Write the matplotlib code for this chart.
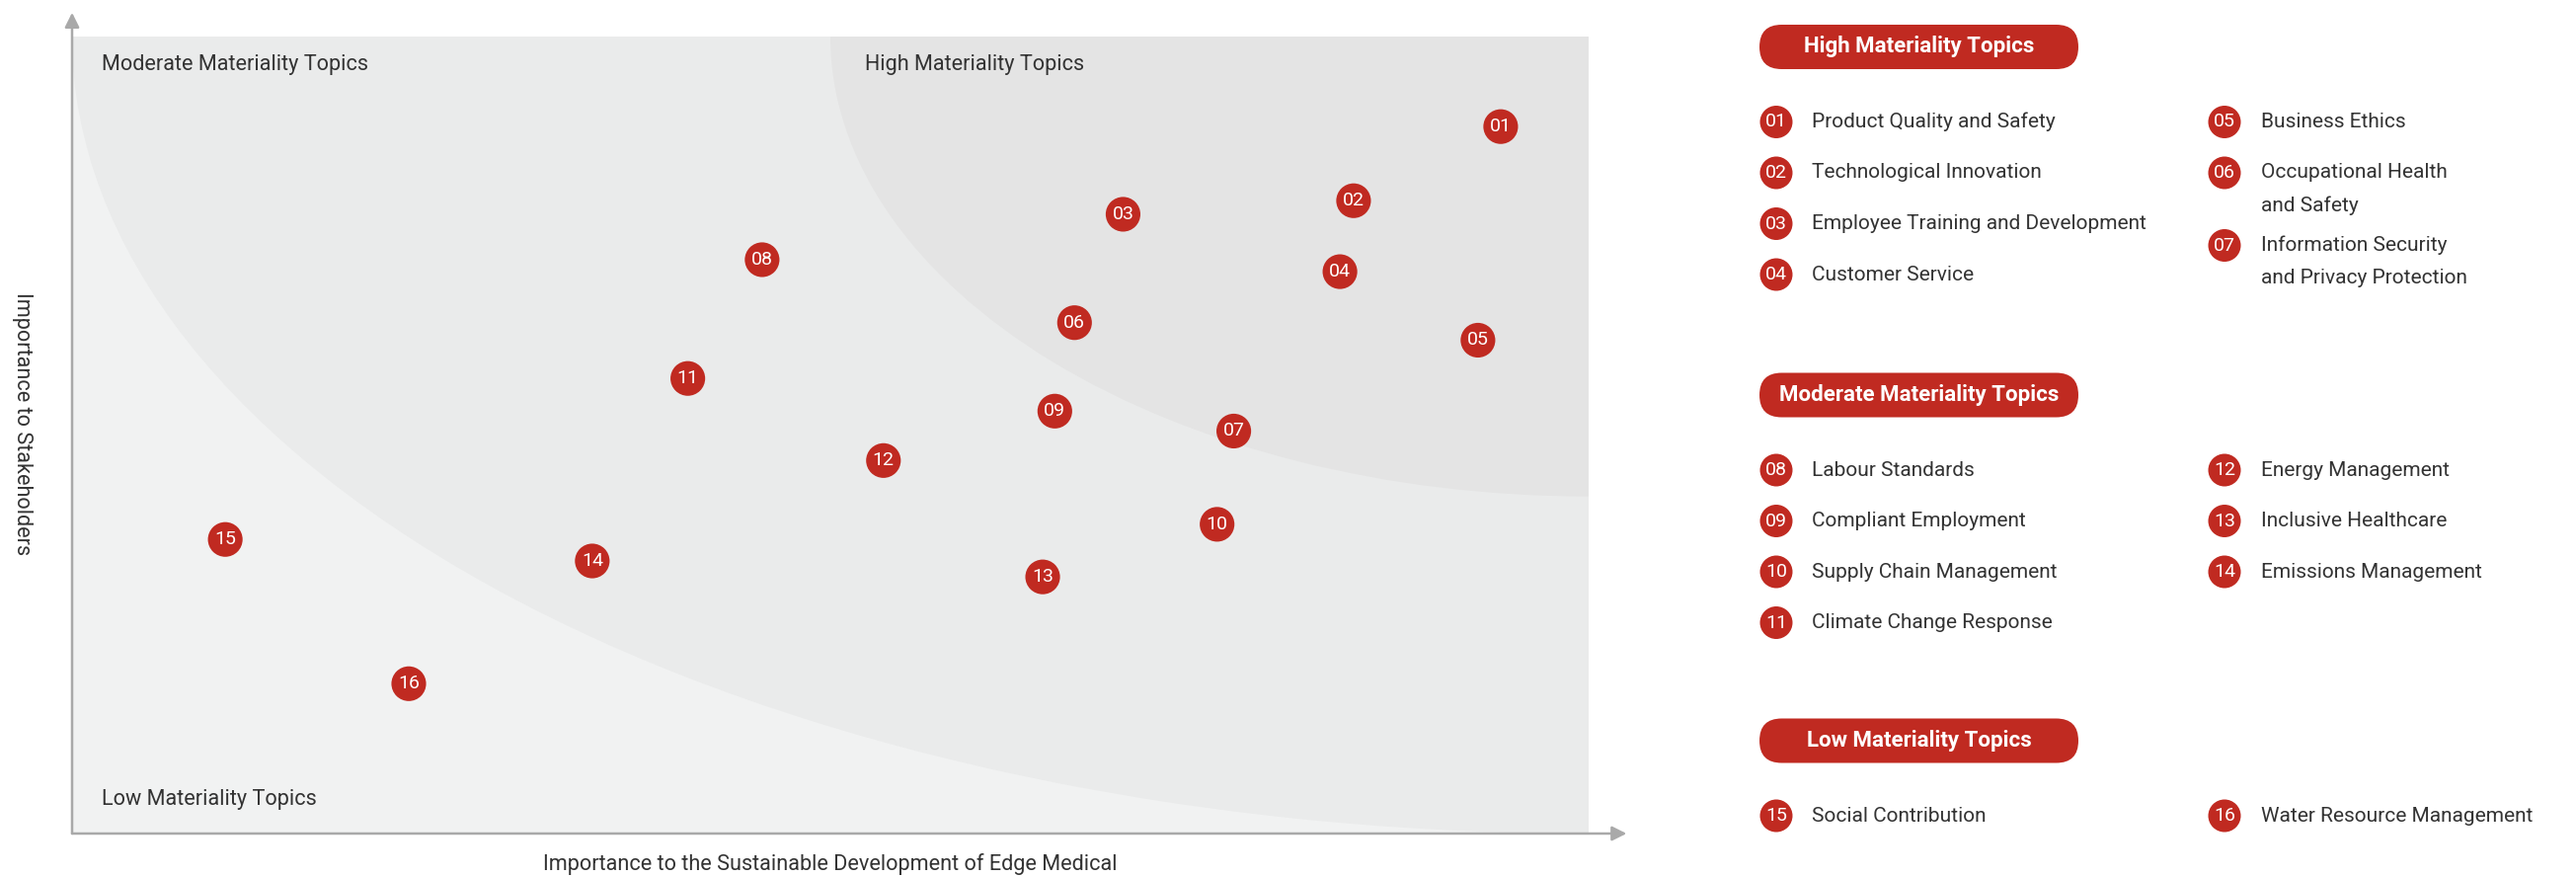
"""
Materiality matrix: topics plotted by importance to stakeholders vs. to the company,
with the topic legend laid out on the right.
"""

import matplotlib.pyplot as plt
from matplotlib.patches import Ellipse, FancyBboxPatch, Circle

plt.rcParams['font.family'] = ['Roboto', 'DejaVu Sans']

# ---- data ----
topic_ids = ['01', '02', '03', '04', '05', '06', '07', '08',
             '09', '10', '11', '12', '13', '14', '15', '16']
topic_names = ['Product Quality and Safety', 'Technological Innovation',
               'Employee Training and Development', 'Customer Service',
               'Business Ethics', 'Occupational Health\nand Safety',
               'Information Security\nand Privacy Protection',
               'Labour Standards', 'Compliant Employment', 'Supply Chain Management',
               'Climate Change Response', 'Energy Management', 'Inclusive Healthcare',
               'Emissions Management', 'Social Contribution', 'Water Resource Management']
# importance to company (x) / stakeholders (y), 0-100
x_vals = [94.2, 84.5, 69.3, 83.6, 92.7, 66.1, 76.6, 45.5,
          64.8, 75.5, 40.6, 53.5, 64.0, 34.3, 10.1, 22.2]
y_vals = [88.7, 79.4, 77.7, 70.5, 61.9, 64.1, 50.5, 72.0,
          53.0, 38.8, 57.1, 46.8, 32.2, 34.2, 36.9, 18.8]

group_titles = ['High Materiality Topics', 'Moderate Materiality Topics', 'Low Materiality Topics']
group_col1 = [['01', '02', '03', '04'], ['08', '09', '10', '11'], ['15']]
group_col2 = [['05', '06', '07'], ['12', '13', '14'], ['16']]

# ---- style ----
RED = '#c02a21'
TXT = '#333333'
AXC = '#a9a9a9'
C_LOW, C_MID, C_HIGH = '#f1f2f2', '#eaebeb', '#e4e4e4'

W, H = 2609, 888
fig = plt.figure(figsize=(W / 100, H / 100), dpi=100)

# legend canvas in pixel units
lax = fig.add_axes([0, 0, 1, 1])
lax.set_xlim(0, W)
lax.set_ylim(H, 0)
lax.axis('off')

# main matrix
ax_l, ax_r, ax_t, ax_b = 73, 1609, 37, 844
ax = fig.add_axes([ax_l / W, (H - ax_b) / H, (ax_r - ax_l) / W, (ax_b - ax_t) / H])
ax.set_xlim(0, 100)
ax.set_ylim(0, 100)
ax.set_facecolor(C_LOW)
for s in ax.spines.values():
    s.set_visible(False)
ax.set_xticks([])
ax.set_yticks([])

ax.add_patch(Ellipse((100, 100), 200, 200, color=C_MID, lw=0, zorder=0.5))
ax.add_patch(Ellipse((100, 100), 100, 115.4, color=C_HIGH, lw=0, zorder=0.6))

# axis arrows
ax.annotate('', xy=(0, 1.03), xytext=(0, 0), xycoords='axes fraction',
            arrowprops=dict(arrowstyle='-|>', color=AXC, lw=1.8, mutation_scale=22,
                            shrinkA=0, shrinkB=0), annotation_clip=False)
ax.annotate('', xy=(1.025, 0), xytext=(0, 0), xycoords='axes fraction',
            arrowprops=dict(arrowstyle='-|>', color=AXC, lw=1.8, mutation_scale=22,
                            shrinkA=0, shrinkB=0), annotation_clip=False)

ax.text(0.0195, 0.965, 'Moderate Materiality Topics', transform=ax.transAxes,
        fontsize=15.6, color=TXT, va='center', ha='left')
ax.text(0.523, 0.965, 'High Materiality Topics', transform=ax.transAxes,
        fontsize=15.6, color=TXT, va='center', ha='left')
ax.text(0.0195, 0.043, 'Low Materiality Topics', transform=ax.transAxes,
        fontsize=15.6, color=TXT, va='center', ha='left')
ax.text(0.5, -0.038, 'Importance to the Sustainable Development of Edge Medical',
        transform=ax.transAxes, fontsize=15.6, color=TXT, va='center', ha='center')
ax.text(-0.033, 0.514, 'Importance to Stakeholders', transform=ax.transAxes,
        fontsize=15.6, color=TXT, va='center', ha='center', rotation=270)

ax.scatter(x_vals, y_vals, s=640, color=RED, edgecolors='none', zorder=3, clip_on=False)
for tid, xv, yv in zip(topic_ids, x_vals, y_vals):
    ax.text(xv, yv, tid, color='white', fontsize=14, ha='center', va='center', zorder=4)

# ---- legend panel ----
pill_x0, pill_x1, pill_h = 1782, 2105, 45
pill_cy = [47.5, 400, 750]
col_circle_x = [1799, 2253]
col_text_x = [1835, 2290]
row_gap, line_gap, extra = 51.5, 33, 22
name_of = dict(zip(topic_ids, topic_names))

for title, cy, cols in zip(group_titles, pill_cy, zip(group_col1, group_col2)):
    lax.add_patch(FancyBboxPatch((pill_x0, cy - pill_h / 2), pill_x1 - pill_x0, pill_h,
                                 boxstyle=f'round,pad=0,rounding_size={pill_h / 2}',
                                 fc=RED, ec='none'))
    lax.text((pill_x0 + pill_x1) / 2, cy, title, color='white', fontsize=16,
             fontweight='bold', ha='center', va='center')
    for ci, ids in enumerate(cols):
        y = cy + 76
        for tid in ids:
            lax.add_patch(Circle((col_circle_x[ci], y), 16.5, fc=RED, ec='none'))
            lax.text(col_circle_x[ci], y, tid, color='white', fontsize=14,
                     ha='center', va='center')
            lines = name_of[tid].split('\n')
            for li, line in enumerate(lines):
                lax.text(col_text_x[ci], y + li * line_gap, line, color=TXT, fontsize=15,
                         ha='left', va='center')
            y += row_gap + (len(lines) - 1) * extra

fig.savefig('out.png', dpi=100)
